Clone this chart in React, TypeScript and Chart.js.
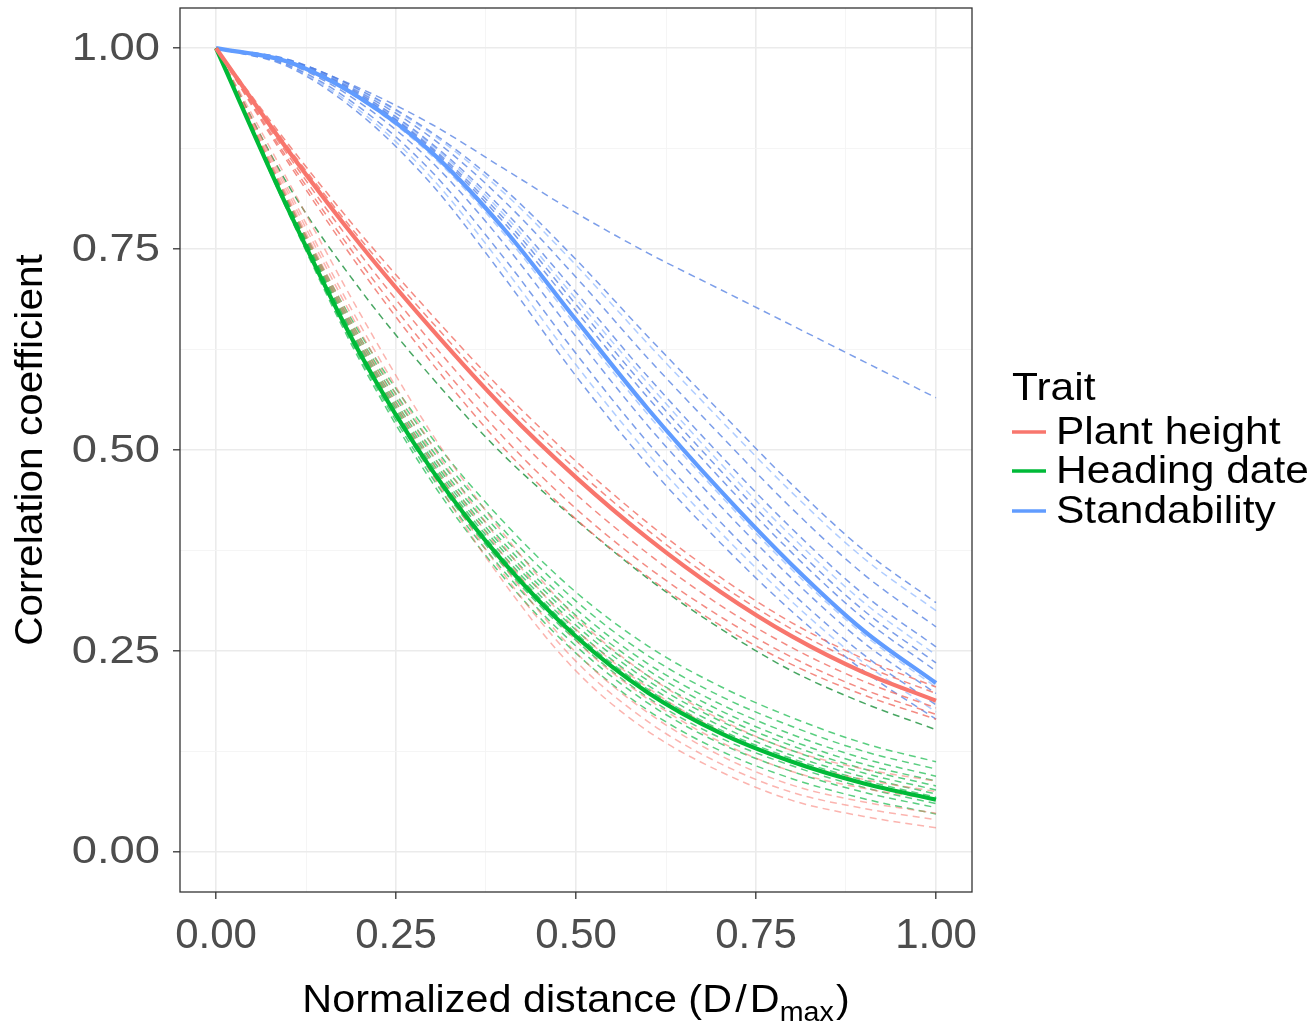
import React, { useEffect, useRef } from 'react';
import { Chart, registerables } from 'chart.js';

Chart.register(...registerables);

// ---------- data ----------
const X_VALUES = [0, 0.1, 0.2, 0.3, 0.4, 0.5, 0.6, 0.7, 0.8, 0.9, 1.0];

const X_TICKS = [0, 0.25, 0.5, 0.75, 1];
const X_MINOR = [0.125, 0.375, 0.625, 0.875];
const Y_TICKS = [0, 0.25, 0.5, 0.75, 1];
const Y_MINOR = [0.125, 0.375, 0.625, 0.875];

const TRAITS = ['Plant height', 'Heading date', 'Standability'];
const TRAIT_COLORS = ['#F8766D', '#00BA38', '#619CFF'];

const PLANT_HEIGHT_MEAN = [1, 0.873, 0.756, 0.65, 0.552, 0.466, 0.39, 0.324, 0.268, 0.223, 0.188];
const HEADING_DATE_MEAN = [1, 0.8, 0.62, 0.475, 0.36, 0.268, 0.198, 0.148, 0.112, 0.085, 0.065];
const STANDABILITY_MEAN = [1, 0.983, 0.938, 0.87, 0.775, 0.662, 0.551, 0.45, 0.357, 0.275, 0.21];

const PLANT_HEIGHT_ENVS = [
  [1, 0.881, 0.77, 0.668, 0.572, 0.486, 0.409, 0.342, 0.285, 0.24, 0.205],
  [1, 0.877, 0.763, 0.659, 0.562, 0.476, 0.4, 0.333, 0.277, 0.232, 0.197],
  [1, 0.867, 0.744, 0.633, 0.532, 0.445, 0.371, 0.307, 0.254, 0.212, 0.179],
  [1, 0.862, 0.734, 0.619, 0.515, 0.427, 0.354, 0.293, 0.242, 0.202, 0.171],
  [1, 0.858, 0.726, 0.608, 0.502, 0.414, 0.342, 0.282, 0.233, 0.195, 0.165],
  [1, 0.835, 0.67, 0.52, 0.395, 0.292, 0.219, 0.165, 0.126, 0.103, 0.088],
  [1, 0.825, 0.656, 0.506, 0.38, 0.277, 0.204, 0.15, 0.112, 0.09, 0.075],
  [1, 0.82, 0.648, 0.495, 0.368, 0.263, 0.19, 0.137, 0.1, 0.079, 0.065],
  [1, 0.815, 0.64, 0.485, 0.355, 0.248, 0.173, 0.12, 0.083, 0.062, 0.048],
  [1, 0.812, 0.635, 0.478, 0.345, 0.237, 0.162, 0.11, 0.074, 0.054, 0.04],
  [1, 0.81, 0.63, 0.47, 0.335, 0.225, 0.15, 0.1, 0.064, 0.044, 0.03],
];

const HEADING_DATE_ENVS = [
  [1, 0.83, 0.7, 0.59, 0.493, 0.413, 0.34, 0.278, 0.225, 0.185, 0.152],
  [1, 0.81, 0.645, 0.515, 0.41, 0.323, 0.256, 0.206, 0.167, 0.135, 0.112],
  [1, 0.808, 0.64, 0.507, 0.4, 0.312, 0.244, 0.194, 0.156, 0.125, 0.103],
  [1, 0.806, 0.636, 0.5, 0.391, 0.302, 0.234, 0.184, 0.146, 0.116, 0.094],
  [1, 0.805, 0.632, 0.494, 0.384, 0.294, 0.226, 0.176, 0.138, 0.109, 0.088],
  [1, 0.804, 0.629, 0.489, 0.378, 0.288, 0.219, 0.169, 0.132, 0.103, 0.082],
  [1, 0.803, 0.626, 0.485, 0.373, 0.282, 0.213, 0.163, 0.126, 0.098, 0.077],
  [1, 0.802, 0.624, 0.481, 0.368, 0.276, 0.207, 0.157, 0.12, 0.093, 0.072],
  [1, 0.801, 0.622, 0.478, 0.364, 0.272, 0.202, 0.152, 0.116, 0.089, 0.068],
  [1, 0.799, 0.618, 0.471, 0.355, 0.263, 0.192, 0.142, 0.107, 0.08, 0.06],
  [1, 0.798, 0.615, 0.466, 0.349, 0.256, 0.185, 0.135, 0.1, 0.074, 0.055],
  [1, 0.796, 0.611, 0.46, 0.341, 0.247, 0.176, 0.126, 0.091, 0.066, 0.047],
];

const STANDABILITY_ENVS = [
  [1, 0.985, 0.95, 0.905, 0.85, 0.795, 0.745, 0.7, 0.655, 0.61, 0.565],
  [1, 0.986, 0.948, 0.895, 0.825, 0.737, 0.641, 0.548, 0.457, 0.375, 0.31],
  [1, 0.986, 0.947, 0.893, 0.82, 0.73, 0.632, 0.538, 0.447, 0.365, 0.3],
  [1, 0.985, 0.945, 0.888, 0.81, 0.715, 0.614, 0.519, 0.427, 0.345, 0.28],
  [1, 0.984, 0.943, 0.881, 0.798, 0.696, 0.591, 0.494, 0.402, 0.32, 0.255],
  [1, 0.984, 0.942, 0.879, 0.793, 0.688, 0.583, 0.484, 0.392, 0.31, 0.245],
  [1, 0.984, 0.941, 0.876, 0.788, 0.681, 0.574, 0.475, 0.382, 0.3, 0.235],
  [1, 0.983, 0.94, 0.874, 0.783, 0.673, 0.565, 0.465, 0.372, 0.29, 0.225],
  [1, 0.982, 0.936, 0.866, 0.769, 0.655, 0.544, 0.444, 0.351, 0.27, 0.205],
  [1, 0.981, 0.932, 0.858, 0.757, 0.641, 0.53, 0.431, 0.34, 0.26, 0.197],
  [1, 0.979, 0.926, 0.846, 0.739, 0.62, 0.509, 0.411, 0.322, 0.245, 0.183],
  [1, 0.978, 0.922, 0.838, 0.727, 0.606, 0.495, 0.398, 0.311, 0.235, 0.174],
  [1, 0.977, 0.918, 0.83, 0.715, 0.592, 0.481, 0.385, 0.299, 0.225, 0.165],
];

const Y_TITLE = 'Correlation coefficient';
const X_TITLE_MAIN = 'Normalized distance (D';
const X_TITLE_SLASH = '/';
const X_TITLE_D = 'D';
const X_TITLE_SUB = 'max';
const X_TITLE_END = ')';
const LEGEND_TITLE = 'Trait';

// ---------- helpers ----------
const FONT = '"Liberation Sans", Arial, sans-serif';
const near = (v: number, list: number[]) => list.some((t) => Math.abs(t - v) < 1e-9);
const toPoints = (arr: number[]) => X_VALUES.map((x, i) => ({ x, y: arr[i] }));

function dashedColor(trait: number, idx: number): string {
  if (trait === 0) {
    return idx < 5 ? 'rgba(240,110,100,0.8)' : 'rgba(248,118,109,0.55)';
  }
  if (trait === 1) {
    return idx === 0 ? 'rgba(40,150,70,0.85)' : 'rgba(0,180,60,0.65)';
  }
  return idx % 3 === 2 ? 'rgba(97,156,255,0.5)' : 'rgba(80,125,225,0.75)';
}

const decorPlugin = {
  id: 'decor',
  afterDraw(chart: any) {
    const { ctx, chartArea: a } = chart;
    ctx.save();
    // panel border
    ctx.strokeStyle = '#333333';
    ctx.lineWidth = 1.3;
    ctx.strokeRect(a.left, a.top, a.right - a.left, a.bottom - a.top);

    // y tick labels
    const ys = chart.scales.y;
    ctx.fillStyle = '#4D4D4D';
    ctx.font = `42px ${FONT}`;
    ctx.textAlign = 'right';
    ctx.textBaseline = 'middle';
    Y_TICKS.forEach((v) => {
      const py = ys.getPixelForValue(v);
      ctx.save();
      ctx.translate(160, py + 1);
      ctx.scale(1.08, 0.92);
      ctx.fillText(v.toFixed(2), 0, 0);
      ctx.restore();
    });

    // y title
    ctx.fillStyle = '#000000';
    ctx.font = `39px ${FONT}`;
    ctx.textAlign = 'center';
    ctx.textBaseline = 'middle';
    ctx.save();
    ctx.translate(31, (a.top + a.bottom) / 2);
    ctx.rotate(-Math.PI / 2);
    ctx.scale(1.04, 1);
    ctx.fillText(Y_TITLE, 0, 0);
    ctx.restore();

    // x title with subscript
    const mainFont = `39px ${FONT}`;
    const subFont = `27px ${FONT}`;
    ctx.textAlign = 'left';
    ctx.textBaseline = 'alphabetic';
    ctx.font = mainFont;
    const w1 = ctx.measureText(X_TITLE_MAIN).width;
    const wS = ctx.measureText(X_TITLE_SLASH).width;
    const wD = ctx.measureText(X_TITLE_D).width;
    const wE = ctx.measureText(X_TITLE_END).width;
    ctx.font = subFont;
    const wSub = ctx.measureText(X_TITLE_SUB).width;
    const total = w1 + wS + wD + wSub + wE + 8;
    const sx = 1.06;
    ctx.save();
    ctx.translate((a.left + a.right) / 2 - (total * sx) / 2, 1012);
    ctx.scale(sx, 1);
    let x = 0;
    ctx.font = mainFont;
    ctx.fillText(X_TITLE_MAIN, x, 0);
    x += w1 + 3;
    ctx.fillText(X_TITLE_SLASH, x, 0);
    x += wS + 3;
    ctx.fillText(X_TITLE_D, x, 0);
    x += wD;
    ctx.font = subFont;
    ctx.fillText(X_TITLE_SUB, x, 9);
    x += wSub + 2;
    ctx.font = mainFont;
    ctx.fillText(X_TITLE_END, x, 0);
    ctx.restore();

    // legend
    ctx.font = `39px ${FONT}`;
    ctx.textBaseline = 'middle';
    ctx.textAlign = 'left';
    ctx.fillStyle = '#000000';
    const drawScaled = (t: string, px: number, py: number) => {
      ctx.save();
      ctx.translate(px, py);
      ctx.scale(1.09, 1);
      ctx.fillText(t, 0, 0);
      ctx.restore();
    };
    drawScaled(LEGEND_TITLE, 1012, 389);
    const ly = [432, 471, 511];
    TRAITS.forEach((t, i) => {
      ctx.strokeStyle = TRAIT_COLORS[i];
      ctx.lineWidth = 3.5;
      ctx.beginPath();
      ctx.moveTo(1012, ly[i]);
      ctx.lineTo(1046, ly[i]);
      ctx.stroke();
      drawScaled(t, 1056, ly[i] + 1);
    });
    ctx.restore();
  },
};

function gridOpts(major: number[]) {
  return {
    color: (c: any) => (c.tick && near(c.tick.value, major) ? '#EBEBEB' : '#F4F4F4'),
    lineWidth: (c: any) => (c.tick && near(c.tick.value, major) ? 1.6 : 0.9),
    tickColor: (c: any) => (c.tick && near(c.tick.value, major) ? '#333333' : 'rgba(0,0,0,0)'),
    tickLength: 7,
    tickWidth: 1.3,
  };
}

export default function App() {
  const ref = useRef<HTMLCanvasElement | null>(null);

  useEffect(() => {
    document.body.style.margin = '0';
    const canvas = ref.current;
    if (!canvas) return;

    const means = [PLANT_HEIGHT_MEAN, HEADING_DATE_MEAN, STANDABILITY_MEAN];
    const envs = [PLANT_HEIGHT_ENVS, HEADING_DATE_ENVS, STANDABILITY_ENVS];

    const datasets: any[] = [];
    means.forEach((m, i) => {
      datasets.push({
        label: TRAITS[i],
        data: toPoints(m),
        borderColor: TRAIT_COLORS[i],
        borderWidth: 4.2,
        pointRadius: 0,
        fill: false,
        cubicInterpolationMode: 'monotone',
        order: 0,
      });
    });
    envs.forEach((group, ti) => {
      group.forEach((arr, k) => {
        datasets.push({
          label: `${TRAITS[ti]} env ${k + 1}`,
          data: toPoints(arr),
          borderColor: dashedColor(ti, k),
          borderWidth: 1.5,
          borderDash: [7, 5],
          pointRadius: 0,
          fill: false,
          cubicInterpolationMode: 'monotone',
          order: 1,
        });
      });
    });

    const chart = new Chart(canvas, {
      type: 'line',
      data: { datasets },
      options: {
        animation: false,
        responsive: false,
        devicePixelRatio: 1,
        layout: { padding: { top: 8, right: 342, bottom: 0, left: 0 } },
        plugins: { legend: { display: false }, tooltip: { enabled: false } },
        scales: {
          x: {
            type: 'linear',
            min: -0.05,
            max: 1.05,
            afterBuildTicks: (s: any) => {
              s.ticks = [...X_TICKS, ...X_MINOR].sort((p, q) => p - q).map((v) => ({ value: v }));
            },
            afterFit: (s: any) => {
              s.height = 132;
              s.paddingLeft = 0;
              s.paddingRight = 0;
            },
            ticks: {
              autoSkip: false,
              maxRotation: 0,
              minRotation: 0,
              padding: 12,
              color: '#4D4D4D',
              font: { family: FONT, size: 42 },
              callback: (v: any) => (near(Number(v), X_TICKS) ? Number(v).toFixed(2) : ''),
            },
            grid: gridOpts(X_TICKS),
            border: { display: false },
          },
          y: {
            type: 'linear',
            min: -0.05,
            max: 1.05,
            afterBuildTicks: (s: any) => {
              s.ticks = [...Y_TICKS, ...Y_MINOR].sort((p, q) => p - q).map((v) => ({ value: v }));
            },
            afterFit: (s: any) => {
              s.width = 180;
              s.paddingTop = 0;
              s.paddingBottom = 0;
            },
            ticks: {
              autoSkip: false,
              padding: 12,
              callback: () => '',
            },
            grid: gridOpts(Y_TICKS),
            border: { display: false },
          },
        },
      },
      plugins: [decorPlugin],
    });

    return () => chart.destroy();
  }, []);

  return <canvas ref={ref} width={1314} height={1024} style={{ display: 'block' }} />;
}
